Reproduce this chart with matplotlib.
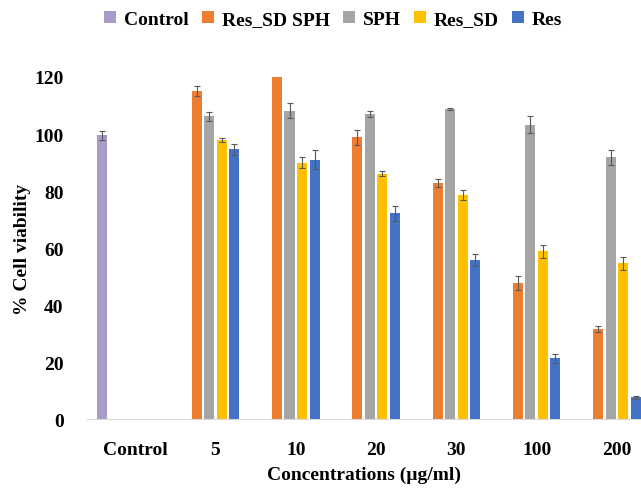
import numpy as np
import matplotlib
matplotlib.use('Agg')
import matplotlib.pyplot as plt

plt.rcParams['font.family'] = ['Liberation Serif', 'DejaVu Serif']
plt.rcParams['font.weight'] = 'bold'
plt.rcParams['font.size'] = 14

categories = ['Control', '5', '10', '20', '30', '100', '200']

control_val = 99.5
control_err = 1.6

series_names = ['Res_SD SPH', 'SPH', 'Res_SD', 'Res']
res_sd_sph = [115.0, 120.0, 98.8, 82.8, 47.7, 31.6]
res_sd_sph_err = [1.7, np.nan, 2.5, 1.4, 2.6, 1.2]
sph = [106.2, 108.2, 107.0, 108.8, 103.3, 91.8]
sph_err = [1.6, 2.7, 0.9, 0.3, 2.9, 2.5]
res_sd = [97.9, 89.9, 86.0, 78.6, 58.8, 54.7]
res_sd_err = [0.8, 1.9, 0.9, 1.7, 2.3, 2.3]
res = [94.6, 91.0, 72.2, 55.8, 21.3, 7.6]
res_err = [1.8, 3.3, 2.7, 2.0, 1.6, 0.5]

colors = ['#ED7D31', '#A5A5A5', '#FFC000', '#4472C4']
control_color = '#A99BC9'

fig = plt.figure(figsize=(6.41, 4.89), dpi=100)
ax = fig.add_axes([0.136, 0.141, 0.864, 0.6995])

width = 0.125
step = 0.156
err_kw = dict(ecolor='#595959', elinewidth=0.8, capsize=2.5, capthick=0.8)

ax.bar(-0.41, control_val, width, yerr=control_err, color=control_color,
       error_kw=err_kw, label='Control')

x = np.arange(1, len(categories))
data = [res_sd_sph, sph, res_sd, res]
errs = [res_sd_sph_err, sph_err, res_sd_err, res_err]
for k in range(4):
    off = (k - 1.5) * step
    ax.bar(x + off, data[k], width, yerr=errs[k], color=colors[k],
           error_kw=err_kw, label=series_names[k])

ax.set_xlim(-0.598, 6.30)
ax.set_ylim(0, 120)
ax.set_yticks(range(0, 121, 20))
ax.set_xticks(range(len(categories)))
ax.set_xticklabels(categories)

for s in ['top', 'right', 'left']:
    ax.spines[s].set_visible(False)
ax.spines['bottom'].set_color('#D9D9D9')
ax.tick_params(axis='y', length=0, pad=17)
ax.tick_params(axis='x', length=0, pad=16)

ax.set_xlabel('Concentrations (µg/ml)', fontweight='bold', labelpad=5)
ax.set_ylabel('% Cell viability', fontweight='bold', labelpad=2)

fig.legend(loc='center', bbox_to_anchor=(0.52, 0.958), ncol=5, frameon=False,
           handlelength=0.6, handleheight=0.6, handletextpad=0.4,
           columnspacing=0.7, borderpad=0)

fig.savefig('out.png', dpi=100)
